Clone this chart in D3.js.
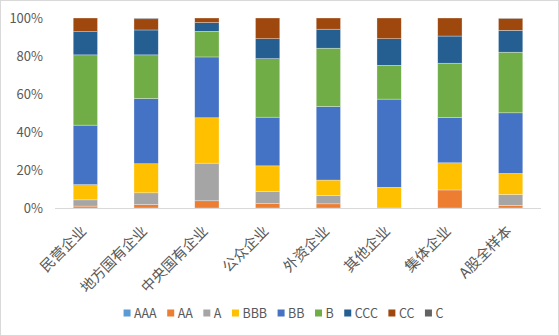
<!DOCTYPE html>
<html>
<head>
<meta charset="utf-8">
<script src="https://cdn.jsdelivr.net/npm/d3@7"></script>
<style>
  html, body { margin: 0; padding: 0; background: #fff; }
  svg { display: block; font-family: "Noto Sans CJK SC", "Noto Sans", sans-serif; }
</style>
</head>
<body>
<svg id="chart" width="559" height="336"></svg>
<script>
// Ownership categories (x axis)
const categories = ["民营企业", "地方国有企业", "中央国有企业", "公众企业", "外资企业", "其他企业", "集体企业", "A股全样本"];

// Rating grades, bottom to top of each stack
const grades = ["AAA", "AA", "A", "BBB", "BB", "B", "CCC", "CC", "C"];

// Share of each grade per category (%)
const AAA = [0,   0,    0,    0,    0,    0,    0,    0];
const AA  = [1.0, 1.8,  3.8,  2.3,  2.2,  0,    9.5,  1.3];
const A   = [3.3, 6.2,  19.8, 6.4,  4.4,  0,    0,    5.8];
const BBB = [8.0, 15.3, 23.9, 13.5, 8.1,  10.9, 14.3, 11.1];
const BB  = [31.3, 34.3, 32.0, 25.6, 38.7, 46.4, 23.8, 31.9];
const B   = [37.0, 23.0, 13.5, 30.8, 30.7, 17.8, 28.6, 31.9];
const CCC = [12.2, 13.1, 4.6,  10.5, 10.0, 14.0, 14.3, 11.5];
const CC  = [7.2, 5.9,  2.4,  10.9, 5.9,  10.9, 9.5,  6.3];
const C   = [0,   0.4,  0,    0,    0,    0,    0,    0.2];

const yTicks = [0, 20, 40, 60, 80, 100];

const colors = ["#5B9BD5", "#ED7D31", "#A5A5A5", "#FFC000", "#4472C4", "#70AD47", "#255E91", "#9E480E", "#636363"];

const seriesValues = [AAA, AA, A, BBB, BB, B, CCC, CC, C];
const rows = categories.map((cat, i) => {
  const r = { cat };
  grades.forEach((g, j) => { r[g] = seriesValues[j][i]; });
  return r;
});

const svg = d3.select("#chart");
const W = 559, H = 336;
const plot = { left: 55, right: 541, top: 18, bottom: 208 };

// outer frame
svg.append("rect")
  .attr("x", 0.5).attr("y", 0.5)
  .attr("width", W - 1).attr("height", H - 1)
  .attr("fill", "#fff").attr("stroke", "#d9d9d9");

const x = d3.scaleBand().domain(categories).range([plot.left, plot.right]).paddingInner(0.6).paddingOuter(0.3);
const y = d3.scaleLinear().domain([0, 100]).range([plot.bottom, plot.top]);

const stack = d3.stack().keys(grades);
const layers = stack(rows);

svg.append("g").selectAll("g")
  .data(layers)
  .join("g")
  .attr("fill", (d, i) => colors[i])
  .selectAll("rect")
  .data(d => d)
  .join("rect")
  .attr("x", d => x(d.data.cat))
  .attr("width", x.bandwidth())
  .attr("y", d => y(d[1]))
  .attr("height", d => Math.max(0, y(d[0]) - y(d[1])))
  .attr("stroke", "#fff")
  .attr("stroke-opacity", 0.5)
  .attr("stroke-width", 0.6);

// y axis labels
const yAxis = d3.axisLeft(y).tickValues(yTicks).tickFormat(d => d + "%").tickSize(0).tickPadding(12);
const gy = svg.append("g").attr("transform", `translate(${plot.left},0)`).call(yAxis);
gy.select(".domain").remove();
gy.selectAll("text").attr("fill", "#595959").style("font-size", "13px")
  .style("font-family", "'Noto Sans CJK SC', sans-serif");

// x axis line and rotated labels
const xAxis = d3.axisBottom(x).tickSize(0).tickPadding(0);
const gx = svg.append("g").attr("transform", `translate(0,${plot.bottom})`).call(xAxis);
gx.select(".domain").attr("stroke", "#d9d9d9").attr("stroke-width", 1.2)
  .attr("d", `M${plot.left},0.5H${plot.right}`);
gx.selectAll("text")
  .attr("fill", "#595959")
  .style("font-size", "14.5px")
  .style("font-family", "'Noto Sans CJK SC', sans-serif")
  .attr("text-anchor", "end")
  .attr("y", 0)
  .attr("dy", "0")
  .attr("transform", "translate(2,24) rotate(-45)");

// legend
const legend = svg.append("g").attr("transform", "translate(0,313)");
const items = legend.selectAll("g").data(grades).join("g");
items.append("rect")
  .attr("width", 7).attr("height", 7)
  .attr("y", -3.5)
  .attr("fill", (d, i) => colors[i]);
items.append("text")
  .attr("x", 10.5)
  .attr("dy", "0.36em")
  .attr("fill", "#595959")
  .style("font-size", "12.5px")
  .text(d => d);
let cursor = 0;
const positions = [];
items.each(function () {
  const tw = d3.select(this).select("text").node().getComputedTextLength();
  positions.push(cursor);
  cursor += 10.5 + tw + 10.5;
});
const total = cursor - 10.5;
const start = 283.5 - total / 2;
items.attr("transform", (d, i) => `translate(${start + positions[i]},0)`);
</script>
</body>
</html>
